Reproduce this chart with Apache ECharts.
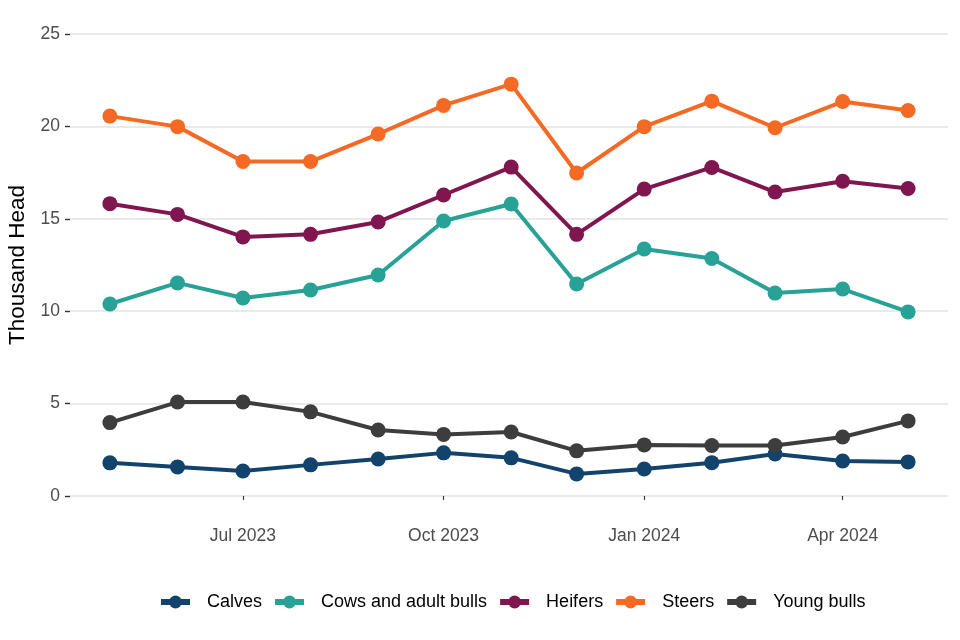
<!DOCTYPE html>
<html><head><meta charset="utf-8">
<script src="https://cdn.jsdelivr.net/npm/echarts@6/dist/echarts.min.js"></script>
<style>html,body{margin:0;padding:0;background:#fff}#c{width:960px;height:640px}</style>
</head><body><div id="c"></div>
<script>
const months = ['2023-05','2023-06','2023-07','2023-08','2023-09','2023-10','2023-11','2023-12','2024-01','2024-02','2024-03','2024-04','2024-05'];
const calves = [1.79,1.57,1.35,1.68,2.00,2.33,2.06,1.19,1.46,1.80,2.27,1.89,1.84];
const cows = [10.39,11.53,10.71,11.15,11.96,14.88,15.80,11.47,13.37,12.85,10.98,11.20,9.96];
const heifers = [15.82,15.24,14.02,14.16,14.83,16.29,17.80,14.16,16.61,17.78,16.45,17.03,16.64];
const steers = [20.56,19.99,18.10,18.10,19.59,21.14,22.29,17.48,19.99,21.37,19.93,21.35,20.86];
const youngBulls = [3.97,5.08,5.08,4.55,3.57,3.33,3.46,2.44,2.76,2.73,2.73,3.19,4.06];
const tickDates = ['2023-07','2023-10','2024-01','2024-04'];
const yTicks = [0,5,10,15,20,25];
const monthNames = ['Jan','Feb','Mar','Apr','May','Jun','Jul','Aug','Sep','Oct','Nov','Dec'];

function ts(s){const [y,m]=s.split('-').map(Number);return new Date(y,m-1,1).getTime();}
const DAY=86400000;
const xMin = ts(months[0]) - 18.3*DAY;
const xMax = ts(months[months.length-1]) + 18.3*DAY;

const seriesDefs = [
  ['Calves', calves, '#12436D'],
  ['Cows and adult bulls', cows, '#28A197'],
  ['Heifers', heifers, '#801650'],
  ['Steers', steers, '#F46A25'],
  ['Young bulls', youngBulls, '#3D3D3D']
];

const chart = echarts.init(document.getElementById('c'));
chart.setOption({
  animation:false,
  textStyle:{fontFamily:'Liberation Sans, Arial, sans-serif'},
  grid:{left:70,right:12,top:11,bottom:121,outerBoundsMode:'none',containLabel:false},
  legend:{
    top:588,left:153,itemWidth:29,itemHeight:16,itemGap:10,
    lineStyle:{width:6},
    textStyle:{fontSize:18,color:'#000',padding:[0,0,0,12]},
    data:seriesDefs.map(d=>d[0])
  },
  xAxis:{
    type:'value',min:xMin,max:xMax,
    axisLine:{show:false},
    axisTick:{show:true,length:4,lineStyle:{color:'#333',width:1.2},customValues:tickDates.map(ts)},
    axisLabel:{customValues:tickDates.map(ts),fontSize:17.5,color:'#4d4d4d',margin:8,
      formatter:function(v){const d=new Date(v);return monthNames[d.getMonth()]+' '+d.getFullYear();}},
    splitLine:{show:false}
  },
  yAxis:{
    type:'value',min:-1.25,max:26.25,
    name:'Thousand Head',nameLocation:'middle',nameGap:38,
    nameTextStyle:{fontSize:22.5,color:'#000'},
    axisLine:{show:false},
    axisTick:{show:true,length:5,lineStyle:{color:'#333',width:1.4},customValues:yTicks},
    axisLabel:{customValues:yTicks,fontSize:17.5,color:'#4d4d4d',margin:10},
    splitLine:{show:true,lineStyle:{color:'#e3e3e3',width:1.5}}
  },
  series:seriesDefs.map(([name,vals,color])=>({
    name,type:'line',
    data:months.map((m,i)=>[ts(m),vals[i]]),
    symbol:'circle',symbolSize:15,
    lineStyle:{width:4,color},
    itemStyle:{color},
    emphasis:{disabled:true}
  }))
});
</script></body></html>
